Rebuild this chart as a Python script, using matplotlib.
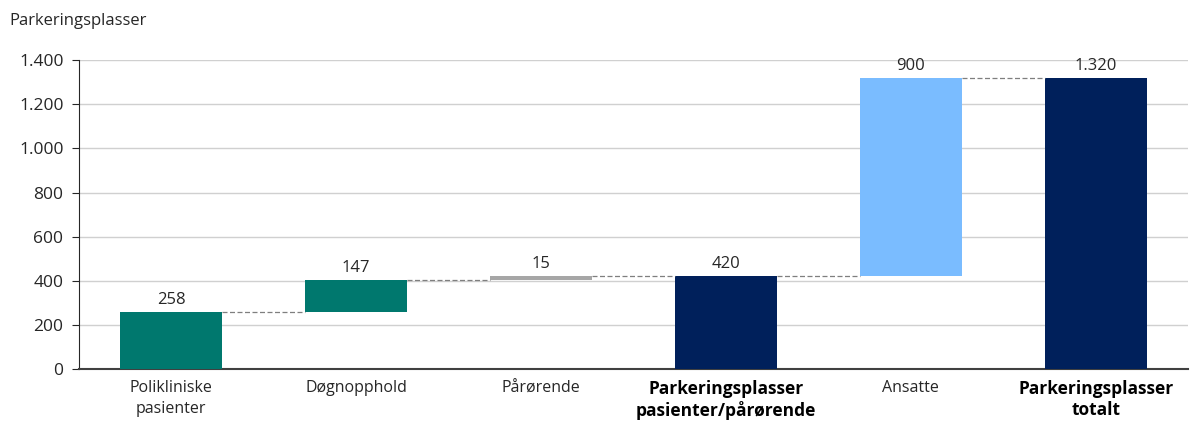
import matplotlib.pyplot as plt
from matplotlib.ticker import FuncFormatter

categories = ["Polikliniske\npasienter", "Døgnopphold", "Pårørende",
              "Parkeringsplasser\npasienter/pårørende", "Ansatte",
              "Parkeringsplasser\ntotalt"]
values = [258, 147, 15, 420, 900, 1320]
is_total = [False, False, False, True, False, True]
colors = ["#00786E", "#00786E", "#A6A6A6", "#00205B", "#7ABCFF", "#00205B"]
yticks = [0, 200, 400, 600, 800, 1000, 1200, 1400]

plt.rcParams['font.family'] = ['Open Sans', 'DejaVu Sans']

def fmt(v):
    return f"{int(v):,}".replace(",", ".")

fig = plt.figure(figsize=(11.93, 4.21), dpi=100)
ax = fig.add_axes([0.066, 0.1235, 0.93, 0.7335])

bottoms = []
tops = []
running = 0
for v, tot in zip(values, is_total):
    if tot:
        b = 0
        running = v
    else:
        b = running
        running += v
    bottoms.append(b)
    tops.append(b + v)

x = list(range(len(values)))
w = 0.55
ax.bar(x, values, bottom=bottoms, width=w, color=colors, zorder=3)

for i in x:
    ax.text(i, tops[i] + 18, fmt(values[i]), ha='center', va='bottom',
            fontsize=12, color='#262626', zorder=4)
    if i < len(values) - 1:
        ax.plot([i + w / 2, i + 1 - w / 2], [tops[i], tops[i]],
                linestyle=(0, (4, 2)), color='#7F7F7F', linewidth=0.9, zorder=4)

ax.set_xlim(-0.5, len(values) - 0.5)
ax.set_ylim(0, 1400)
ax.set_yticks(yticks)
ax.yaxis.set_major_formatter(FuncFormatter(lambda v, p: fmt(v)))
ax.grid(axis='y', color='#D0D0D0', linewidth=1, zorder=0)
ax.tick_params(axis='y', labelsize=12.5, length=5, pad=6, direction='out', colors='#262626')
ax.tick_params(axis='x', length=0, pad=8)
ax.set_xticks(x)
ax.set_xticklabels(categories, fontsize=11.5, color='#262626', linespacing=1.4)
for lbl, tot in zip(ax.get_xticklabels(), is_total):
    if tot:
        lbl.set_fontweight('bold')
        lbl.set_fontsize(12.5)
        lbl.set_color('black')
        lbl.set_linespacing(1.2)

for s in ['top', 'right']:
    ax.spines[s].set_visible(False)
ax.spines['left'].set_color('#262626')
ax.spines['bottom'].set_color('#404040')
ax.spines['bottom'].set_linewidth(1.5)

fig.text(0.008, 0.95, "Parkeringsplasser", fontsize=12, color='#262626',
         ha='left', va='center')

fig.savefig("out.png", dpi=100)
